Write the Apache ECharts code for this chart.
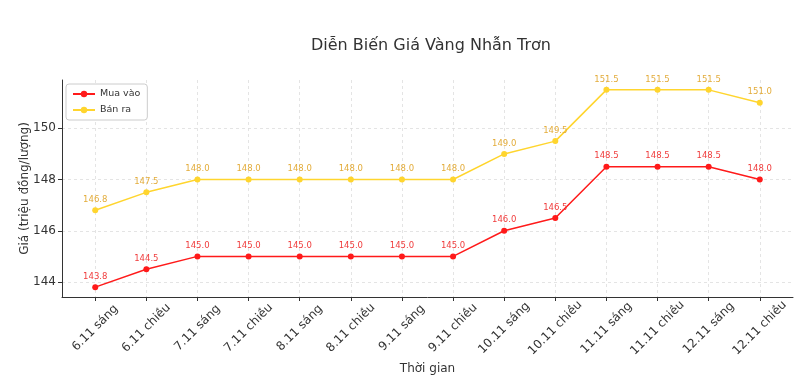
<!DOCTYPE html>
<html>
<head>
<meta charset="utf-8">
<script src="https://cdn.jsdelivr.net/npm/echarts@6/dist/echarts.min.js"></script>
<style>html,body{margin:0;padding:0;background:#fff;}#c{width:800px;height:390px;}</style>
</head>
<body>
<div id="c"></div>
<script>
const categories = ['6.11 sáng','6.11 chiều','7.11 sáng','7.11 chiều','8.11 sáng','8.11 chiều','9.11 sáng','9.11 chiều','10.11 sáng','10.11 chiều','11.11 sáng','11.11 chiều','12.11 sáng','12.11 chiều'];
const muaVao = [143.8,144.5,145.0,145.0,145.0,145.0,145.0,145.0,146.0,146.5,148.5,148.5,148.5,148.0];
const banRa = [146.8,147.5,148.0,148.0,148.0,148.0,148.0,148.0,149.0,149.5,151.5,151.5,151.5,151.0];
const yTicks = [144,146,148,150];

const FONT = 'DejaVu Sans';
const idx = categories.map((_, i) => i);
const chart = echarts.init(document.getElementById('c'), null, {renderer: 'canvas'});
function mkSeries(name, vals, lineColor, labelColor) {
  return {
    name: name, type: 'line',
    data: vals.map((v, i) => [i, v]),
    symbol: 'circle', symbolSize: 6,
    lineStyle: {color: lineColor, width: 1.5},
    itemStyle: {color: lineColor},
    label: {show: true, position: 'top', distance: 3, fontSize: 8.5, fontFamily: FONT, color: labelColor,
      formatter: p => p.value[1].toFixed(1)},
    animation: false
  };
}
chart.setOption({
  animation: false,
  backgroundColor: '#fff',
  title: {text: 'Diễn Biến Giá Vàng Nhẫn Trơn', left: 426, top: 33, textAlign: 'center',
    textStyle: {fontFamily: FONT, fontSize: 16, fontWeight: 'normal', color: '#333'}},
  grid: {left: 62, right: 7, top: 80, bottom: 93, containLabel: false},
  legend: {
    orient: 'vertical', left: 66, top: 84,
    backgroundColor: '#fff', borderColor: '#ccc', borderWidth: 1, borderRadius: 3,
    padding: [5, 7, 5, 6], itemGap: 6, itemWidth: 22, itemHeight: 8,
    textStyle: {fontFamily: FONT, fontSize: 9.5, color: '#333'},
    data: ['Mua vào', 'Bán ra']
  },
  xAxis: {
    type: 'value', min: -0.65, max: 13.65,
    name: 'Thời gian', nameLocation: 'middle', nameGap: 66, nameMoveOverlap: false,
    nameTextStyle: {fontFamily: FONT, fontSize: 12, color: '#333'},
    axisLine: {show: true, onZero: false, lineStyle: {color: '#333', width: 1}},
    axisTick: {show: true, customValues: idx, length: 4, lineStyle: {color: '#333'}},
    axisLabel: {customValues: idx, rotate: 45, align: 'center', verticalAlign: 'middle', margin: 31,
      fontFamily: FONT, fontSize: 12, color: '#333', formatter: v => categories[Math.round(v)]},
    splitLine: {show: true, customValues: idx, lineStyle: {color: '#ddd', type: [3, 3], width: 0.8}}
  },
  yAxis: {
    type: 'value', min: 143.415, max: 151.885,
    name: 'Giá (triệu đồng/lượng)', nameLocation: 'middle', nameGap: 31, nameMoveOverlap: false,
    nameTextStyle: {fontFamily: FONT, fontSize: 12, color: '#333'},
    axisLine: {show: true, onZero: false, lineStyle: {color: '#333', width: 1}},
    axisTick: {show: true, customValues: yTicks, length: 4, lineStyle: {color: '#333'}},
    axisLabel: {customValues: yTicks, fontFamily: FONT, fontSize: 12, color: '#333', margin: 6},
    splitLine: {show: true, customValues: yTicks, lineStyle: {color: '#ddd', type: [3, 3], width: 0.8}}
  },
  series: [
    mkSeries('Mua vào', muaVao, '#ff1a1a', '#f03c3c'),
    mkSeries('Bán ra', banRa, '#ffd52e', '#e3ac3a')
  ]
});
</script>
</body>
</html>
